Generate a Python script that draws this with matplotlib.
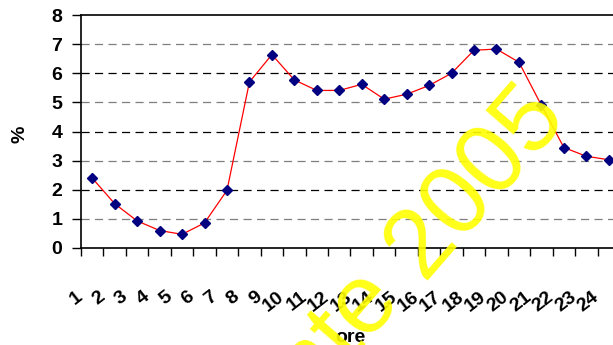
import matplotlib
matplotlib.use("Agg")
import matplotlib.pyplot as plt
from matplotlib.transforms import ScaledTranslation

plt.rcParams["font.family"] = ["Liberation Sans", "DejaVu Sans"]

# hourly share (%) over the 24 hours of the day
hours = list(range(1, 25))
share = [2.4, 1.52, 0.93, 0.6, 0.47, 0.86, 1.98, 5.7, 6.64, 5.77, 5.41, 5.41,
         5.62, 5.11, 5.28, 5.58, 6.0, 6.79, 6.83, 6.38, 4.9, 3.45, 3.15, 3.03]
y_ticks = list(range(0, 9))

fig = plt.figure(figsize=(6.13, 3.45), dpi=100)
ax = fig.add_axes([81 / 613, 97 / 345, 539 / 613, 233 / 345])

ax.set_xlim(0.5, 24.5)
ax.set_ylim(0, 8)

# dashed grid, alternating black and grey
for v in y_ticks[1:-1]:
    col = "black" if v % 2 == 0 else "#7f7f7f"
    ax.axhline(v, color=col, lw=0.9, ls=(0, (6.5, 4.3)), zorder=1)

ax.plot(hours, share, color="red", lw=0.9, zorder=3)
ax.plot(hours, share, ls="none", marker="D", ms=5.2,
        mfc="#000080", mec="#000080", zorder=4)

ax.spines["right"].set_visible(False)
for side in ["left", "bottom", "top"]:
    ax.spines[side].set_linewidth(1.2)
    ax.spines[side].set_color("black")

ax.set_yticks(y_ticks)
ax.set_yticklabels([str(v) for v in y_ticks], fontsize=14, fontweight="bold")
ax.tick_params(axis="y", direction="out", length=6.5, width=1.0, pad=7)
for v, tick in zip(y_ticks, ax.yaxis.get_major_ticks()):
    if v % 2 == 1:
        tick.tick1line.set_color("#7f7f7f")

ax.set_xticks([h - 0.5 for h in hours] + [24.5], minor=True)
ax.tick_params(axis="x", which="minor", direction="out", length=6, width=1.0)
ax.set_xticks(hours)
ax.set_xticklabels([str(h) for h in hours], fontsize=14, fontweight="bold",
                   rotation=38, ha="right", va="center", rotation_mode="anchor")
ax.tick_params(axis="x", which="major", length=0, pad=34)
shift = ScaledTranslation(-12 / 100, 0, fig.dpi_scale_trans)
for lab in ax.get_xticklabels():
    lab.set_transform(lab.get_transform() + shift)

fig.text(20 / 613, 1 - 134 / 345, "%", rotation=90, fontsize=14,
         fontweight="bold", ha="center", va="center")
fig.text(350 / 613, 1 - 338 / 345, "ore", fontsize=14, fontweight="bold",
         ha="center", va="center")

# yellow watermark across the plot
wm = dict(fontsize=71, color="#ffff00", alpha=0.9, rotation=49,
          rotation_mode="anchor", va="baseline", zorder=10)
fig.text(401 / 613, 50 / 345, "Fonte", ha="right", **wm)
fig.text(495 / 613, 147 / 345, "2005", ha="center", **wm)

fig.savefig("out.png", dpi=100)
plt.close(fig)
